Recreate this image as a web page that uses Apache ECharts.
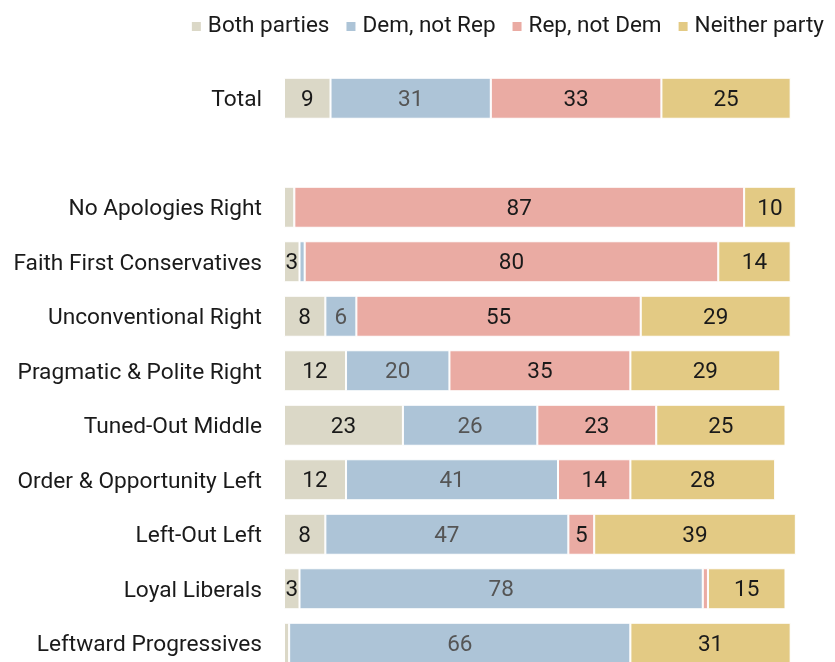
<!DOCTYPE html>
<html>
<head>
<meta charset="utf-8">
<script src="https://cdn.jsdelivr.net/npm/echarts@6/dist/echarts.min.js"></script>
<style>
html,body{margin:0;padding:0;background:#fff;overflow:hidden;}
#chart{width:835px;height:680px;}
</style>
</head>
<body>
<div id="chart"></div>
<script>
const categories = ['Total', '', 'No Apologies Right', 'Faith First Conservatives', 'Unconventional Right', 'Pragmatic & Polite Right', 'Tuned-Out Middle', 'Order & Opportunity Left', 'Left-Out Left', 'Loyal Liberals', 'Leftward Progressives'];
const bothParties = [9, null, 2, 3, 8, 12, 23, 12, 8, 3, 1];
const demNotRep   = [31, null, 0, 1, 6, 20, 26, 41, 47, 78, 66];
const repNotDem   = [33, null, 87, 80, 55, 35, 23, 14, 5, 1, 0];
const neither     = [25, null, 10, 14, 29, 29, 25, 28, 39, 15, 31];

const seriesNames = ['Both parties', 'Dem, not Rep', 'Rep, not Dem', 'Neither party'];
const seriesData = [bothParties, demNotRep, repNotDem, neither];
const colors = ['#dbd8c7', '#adc4d7', '#eaaba3', '#e3ca84'];
const labelColors = ['#1a1a1a', '#555', '#1a1a1a', '#1a1a1a'];

const FONT = 'Roboto, "Liberation Sans", sans-serif';

const chart = echarts.init(document.getElementById('chart'));
chart.setOption({
  animation: false,
  textStyle: { fontFamily: FONT },
  legend: {
    right: 6,
    top: 10,
    itemWidth: 11,
    itemHeight: 11,
    itemGap: 15,
    icon: 'rect',
    textStyle: { fontSize: 22.5, color: '#1a1a1a', fontFamily: FONT, padding: [0, 0, 0, 1] },
    data: seriesNames
  },
  grid: { left: 284, width: 517, top: 71, height: 599.5, containLabel: false },
  xAxis: {
    type: 'value', min: 0, max: 100, show: false
  },
  yAxis: {
    type: 'category',
    inverse: true,
    data: categories,
    axisLine: { show: false },
    axisTick: { show: false },
    axisLabel: {
      fontSize: 22.7, color: '#1a1a1a', margin: 22, fontFamily: FONT,
      formatter: v => '{a|' + v + '}',
      rich: { a: { fontSize: 22.7, color: '#1a1a1a', fontFamily: FONT, padding: [5, 0, 0, 0] } }
    }
  },
  series: seriesNames.map((n, i) => ({
    name: n,
    type: 'bar',
    stack: 'total',
    barWidth: 41,
    data: seriesData[i],
    itemStyle: { color: colors[i], borderColor: '#fff', borderWidth: 1 },
    label: {
      show: true,
      position: 'inside',
      fontSize: 22.5,
      color: labelColors[i],
      fontFamily: FONT,
      offset: [0, 2],
      formatter: p => (p.value != null && p.value >= 3 ? String(p.value) : '')
    }
  }))
});
</script>
</body>
</html>
